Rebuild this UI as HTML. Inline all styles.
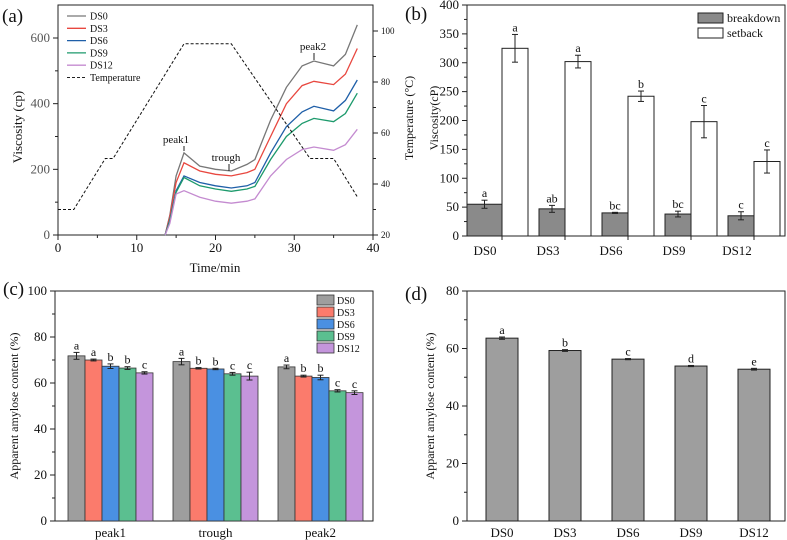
<!DOCTYPE html>
<html><head><meta charset="utf-8"><style>
body{margin:0;background:#fff}
svg{display:block;font-family:"Liberation Serif","DejaVu Serif",serif}
svg text{font-family:"Liberation Serif","DejaVu Serif",serif}
</style></head><body>
<svg id="s" width="787" height="540" viewBox="0 0 787 540"></svg>
<script>
// ---- Panel (a) data ----
const aSeries=["DS0","DS3","DS6","DS9","DS12"];
const aTimes=[13.6,14.2,15,16,18,20,22,24,25,27,29,31,32.5,35,36.5,38];
const aDS0=[0,60,180,250,210,200,195,215,230,350,450,515,530,515,550,640];
const aDS3=[0,55,160,220,195,185,180,190,200,300,400,455,468,458,490,568];
const aDS6=[0,45,135,180,160,150,143,150,160,250,330,375,392,378,410,472];
const aDS9=[0,42,130,175,150,140,133,140,148,230,300,340,355,345,370,432];
const aDS12=[0,35,125,135,115,103,97,103,110,180,230,260,268,258,275,322];
const tempTimes=[0,2,6,7,16,22,32,35,38];
const tempVals=[30,30,50,50,95,95,50,50,35];
// ---- Panel (b) data ----
const bCats=["DS0","DS3","DS6","DS9","DS12"];
const bBreak=[55,47,40,38,35];
const bBreakErr=[7,6,1,5,7];
const bBreakLet=["a","ab","bc","bc","c"];
const bSet=[325,302,242,198,129];
const bSetErr=[24,11,9,28,20];
const bSetLet=["a","a","b","c","c"];
// ---- Panel (c) data ----
const cGroups=["peak1","trough","peak2"];
const cPeak1=[71.8,70,67.3,66.5,64.4];
const cPeak1Err=[1.5,0.4,1,0.6,0.5];
const cTrough=[69.3,66.4,66.1,64,63];
const cTroughErr=[1.4,0.3,0.3,0.6,1.7];
const cPeak2=[67,63,62.4,56.6,55.8];
const cPeak2Err=[0.8,0.4,1,0.5,0.8];
const cLet=[["a","a","b","b","c"],["a","b","b","c","c"],["a","b","b","c","c"]];
// ---- Panel (d) data ----
const dCats=["DS0","DS3","DS6","DS9","DS12"];
const dVals=[63.6,59.3,56.3,53.9,52.8];
const dErr=[0.4,0.3,0.2,0.2,0.3];
const dLet=["a","b","c","d","e"];

const S=document.getElementById('s');
const NS="http://www.w3.org/2000/svg";
const FF='"Liberation Serif", "DejaVu Serif", serif';
function el(tag,attrs,parent,text){const e=document.createElementNS(NS,tag);for(const k in attrs)e.setAttribute(k,attrs[k]);if(text!==undefined)e.textContent=text;(parent||S).appendChild(e);return e;}
function txt(x,y,t,size,anchor,name,extra){const e=el('text',Object.assign({x:x,y:y,'font-size':size,'font-family':FF,'text-anchor':anchor||'middle',fill:'#111'},extra||{}),S,t);


return e;}
function line(x1,y1,x2,y2,name,st){const e=el('line',Object.assign({x1,y1,x2,y2,stroke:'#222','stroke-width':1},st||{}));


return e;}
function box(x,y,w,h,name){const e=el('rect',{x,y,width:w,height:h,fill:'none',stroke:'#222','stroke-width':1});

}
function errbar(x,y1,y2,w,name){const g=el('g',{stroke:'#222','stroke-width':1});


el('line',{x1:x,y1:y1,x2:x,y2:y2},g);el('line',{x1:x-w,y1:y1,x2:x+w,y2:y1},g);el('line',{x1:x-w,y1:y2,x2:x+w,y2:y2},g);}

// ===== Panel A =====
const aX=v=>58+v/40*315, aY=v=>235-v/600*197, aT=v=>235-(v-20)/20*51;
box(58,5,315,230,'panel-a-frame');
for(let v=0;v<=40;v+=5){line(aX(v),235,aX(v),v%10?238:240,'a-x-tick');if(v%10==0)txt(aX(v),252,String(v),13,'middle','a-x-tick-label');}
for(let v=0;v<=600;v+=100){line(58,aY(v),v%200?55:53,aY(v),'a-y-tick');if(v%200==0)txt(50,aY(v)+4,String(v),13,'end','a-y-tick-label',{fill:'#555'});}
for(let v=20;v<=100;v+=10){line(373,aT(v),v%20?376:378,aT(v),'a-y2-tick');if(v%20==0)txt(381,aT(v)+3,String(v),9,'start','a-y2-tick-label');}
txt(215,272,'Time/min',13,'middle','a-x-axis-title');
txt(0,0,'Viscosity (cp)',13,'middle','a-y-axis-title',{transform:'translate(22,127) rotate(-90)'});
txt(2,22,'(a)',19,'start','panel-a-label');
const aCols=['#777777','#e8473f','#1f5fa8','#1d9a6c','#c48bd0'];
const aData=[aDS0,aDS3,aDS6,aDS9,aDS12];
aData.forEach((arr,i)=>{const d=arr.map((v,j)=>(j?'L':'M')+aX(aTimes[j]).toFixed(1)+','+aY(v).toFixed(1)).join('');
const p=el('path',{d,fill:'none',stroke:aCols[i],'stroke-width':1.3});

});
{const d=tempTimes.map((v,j)=>(j?'L':'M')+aX(v).toFixed(1)+','+aT(tempVals[j]).toFixed(1)).join('');
const p=el('path',{d,fill:'none',stroke:'#111','stroke-width':1,'stroke-dasharray':'3,2'});

}
const aLeg=aSeries.concat(['Temperature']);
aLeg.forEach((n,i)=>{const y=16+i*12.3;
if(i<5)line(67,y,86,y,'a-legend-swatch',{stroke:aCols[i],'stroke-width':1.3});else line(67,y,86,y,'a-legend-swatch',{'stroke-dasharray':'3,2'});
txt(90,y+3.5,n,10,'start','a-legend-entry');});
txt(176,143,'peak1',11,'middle','a-peak1-label');line(184,146,184,151,'a-peak1-pointer');
txt(226,161,'trough',11,'middle','a-trough-label');line(229,164,229,171,'a-trough-pointer');
txt(313,50,'peak2',11,'middle','a-peak2-label');line(314,53,314,60,'a-peak2-pointer');

// ===== Panel B =====
const bY=v=>236-v/400*231, bG=i=>502+i*63;
box(467,5,318,231,'panel-b-frame');
for(let v=0;v<=400;v+=25){line(467,bY(v),v%50?464:462,bY(v),'b-y-tick');if(v%50==0)txt(459,bY(v)+4,String(v),13,'end','b-y-tick-label');}
bCats.forEach((c,i)=>{const g=bG(i);line(g,236,g,240,'b-x-tick');txt(g-17,255,c,13,'middle','b-x-tick-label');
const bx=i===0?467:g-26;
const r1=el('rect',{x:bx,y:bY(bBreak[i]),width:g-bx,height:236-bY(bBreak[i]),fill:'#8a8a8a',stroke:'#222'});


const r2=el('rect',{x:g,y:bY(bSet[i]),width:26,height:236-bY(bSet[i]),fill:'#fff',stroke:'#222'});


const ex=(bx+g)/2;
errbar(ex,bY(bBreak[i]+bBreakErr[i]),bY(bBreak[i]-bBreakErr[i]),3,'b-error-breakdown');
errbar(g+13,bY(bSet[i]+bSetErr[i]),bY(bSet[i]-bSetErr[i]),3,'b-error-setback');
txt(ex,bY(bBreak[i]+bBreakErr[i])-3,bBreakLet[i],12,'middle','b-letter');
txt(g+13,bY(bSet[i]+bSetErr[i])-3,bSetLet[i],12,'middle','b-letter');});
txt(0,0,'Viscosity(cP)',12,'middle','b-y-axis-title',{transform:'translate(438,118) rotate(-90)'});
txt(0,0,'Temperature (°C)',12,'middle','b-y2-axis-title',{transform:'translate(413,118) rotate(-90)'});
txt(405,20,'(b)',19,'start','panel-b-label');
{const r=el('rect',{x:698,y:13,width:25,height:10,fill:'#8a8a8a',stroke:'#222'});
const r2=el('rect',{x:698,y:28,width:25,height:10,fill:'#fff',stroke:'#222'});}
txt(727,22,'breakdown',12,'start','b-legend-entry');txt(727,37,'setback',12,'start','b-legend-entry');

// ===== Panel C =====
const cY=v=>521-v/100*230, cX=(g,k)=>68+g*105+k*17;
const cCols=['#9e9e9e','#fb7b6c','#4a90e2','#5bbf90','#c495dc'];
const cData=[cPeak1,cTrough,cPeak2], cErrs=[cPeak1Err,cTroughErr,cPeak2Err];
box(55,291,318,230,'panel-c-frame');
for(let v=0;v<=100;v+=10){line(55,cY(v),v%20?52:50,cY(v),'c-y-tick');if(v%20==0)txt(47,cY(v)+4,String(v),13,'end','c-y-tick-label');}
cGroups.forEach((g,gi)=>{txt(cX(gi,2.5),537,g,13,'middle','c-x-tick-label');
cData[gi].forEach((v,k)=>{const r=el('rect',{x:cX(gi,k),y:cY(v),width:17,height:521-cY(v),fill:cCols[k],stroke:'#333','stroke-width':0.8});


const cx=cX(gi,k)+8.5;errbar(cx,cY(v+cErrs[gi][k]),cY(v-cErrs[gi][k]),3,'c-error-bar');
txt(cx,cY(v+cErrs[gi][k])-3,cLet[gi][k],12,'middle','c-letter');});});
txt(0,0,'Apparent amylose content (%)',12,'middle','c-y-axis-title',{transform:'translate(18,406) rotate(-90)'});
txt(3,295,'(c)',19,'start','panel-c-label');
aSeries.forEach((n,k)=>{const y=295+k*12;const r=el('rect',{x:317,y:y,width:17,height:10,fill:cCols[k],stroke:'#333','stroke-width':0.8});


txt(337,y+9,n,10,'start','c-legend-entry');});

// ===== Panel D =====
const dY=v=>521-v/80*230, dX=i=>502+i*63;
box(467,291,318,230,'panel-d-frame');
for(let v=0;v<=80;v+=10){line(467,dY(v),v%20?464:462,dY(v),'d-y-tick');if(v%20==0)txt(459,dY(v)+4,String(v),13,'end','d-y-tick-label');}
dCats.forEach((c,i)=>{txt(dX(i),537,c,13,'middle','d-x-tick-label');
const r=el('rect',{x:dX(i)-16,y:dY(dVals[i]),width:32,height:521-dY(dVals[i]),fill:'#9e9e9e',stroke:'#222'});


errbar(dX(i),dY(dVals[i]+dErr[i]),dY(dVals[i]-dErr[i]),3,'d-error-bar');
txt(dX(i),dY(dVals[i]+dErr[i])-3,dLet[i],12,'middle','d-letter');});
txt(0,0,'Apparent amylose content (%)',12,'middle','d-y-axis-title',{transform:'translate(434,406) rotate(-90)'});
txt(405,300,'(d)',19,'start','panel-d-label');
</script>
</body></html>
